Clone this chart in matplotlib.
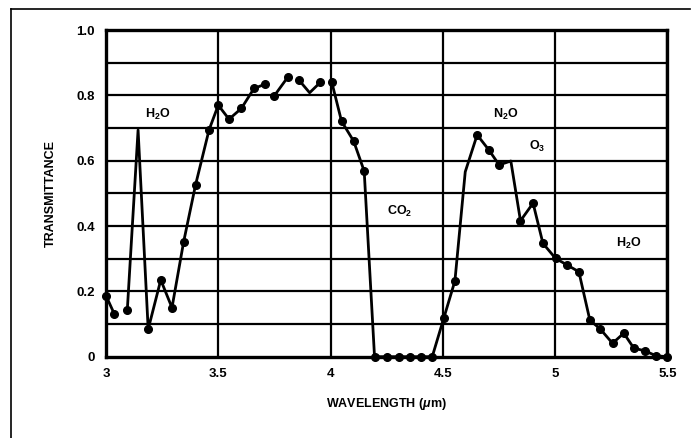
import numpy as np
import matplotlib
matplotlib.use("Agg")
import matplotlib.pyplot as plt
from matplotlib.lines import Line2D

# longitud de onda (um) y transmitancia medida
wavelength = [3.000, 3.037, 3.095, 3.143, 3.188, 3.244, 3.294, 3.346, 3.399, 3.459,
              3.500, 3.548, 3.603, 3.659, 3.708, 3.749, 3.809, 3.859, 3.907, 3.955,
              4.005, 4.049, 4.103, 4.150, 4.196, 4.250, 4.303, 4.354, 4.405, 4.453,
              4.504, 4.554, 4.600, 4.653, 4.705, 4.751, 4.803, 4.846, 4.902, 4.946,
              5.002, 5.053, 5.106, 5.155, 5.201, 5.256, 5.306, 5.351, 5.400, 5.449,
              5.500]
transmittance = [0.187, 0.131, 0.143, 0.694, 0.084, 0.235, 0.150, 0.352, 0.526, 0.694,
                 0.770, 0.727, 0.760, 0.821, 0.834, 0.798, 0.855, 0.847, 0.808, 0.840,
                 0.842, 0.721, 0.660, 0.568, 0.0, 0.0, 0.0, 0.0, 0.0, 0.0,
                 0.117, 0.232, 0.566, 0.679, 0.633, 0.587, 0.599, 0.416, 0.470, 0.347,
                 0.301, 0.281, 0.260, 0.112, 0.085, 0.041, 0.072, 0.026, 0.018, 0.003,
                 0.0]
# puntos sin marcador (vertices de la curva)
no_dot = [3, 18, 32, 36]
# la curva se interrumpe despues de estos indices
breaks = [1, 14, 16, 19]

# etiquetas de las bandas de absorcion
bands = ["H$_2$O", "CO$_2$", "N$_2$O", "O$_3$", "H$_2$O"]
band_x = [3.23, 4.31, 4.78, 4.92, 5.33]
band_y = [0.74, 0.444, 0.743, 0.643, 0.347]

xticks = [3, 3.5, 4, 4.5, 5, 5.5]
xtick_labels = ["3", "3.5", "4", "4.5", "5", "5.5"]
yticks = [0, 0.2, 0.4, 0.6, 0.8, 1.0]
ytick_labels = ["0", "0.2", "0.4", "0.6", "0.8", "1.0"]

plt.rcParams['font.family'] = ['Liberation Sans', 'DejaVu Sans']
plt.rcParams['font.weight'] = 'bold'
plt.rcParams['mathtext.fontset'] = 'custom'
plt.rcParams['mathtext.rm'] = 'Liberation Sans:bold'
plt.rcParams['mathtext.it'] = 'Liberation Sans:italic:bold'
plt.rcParams['mathtext.default'] = 'rm'

fig = plt.figure(figsize=(6.99, 4.38), dpi=100)
ax = fig.add_axes([0.1516, 0.1856, 0.9547 - 0.1516, 0.9315 - 0.1856])

# rejilla
for gx in xticks:
    ax.axvline(gx, color='black', lw=1.6, zorder=1)
for gy in np.arange(0.1, 1.0, 0.1):
    ax.axhline(gy, color='black', lw=1.6, zorder=1)

# curva por tramos
starts = [0] + [b + 1 for b in breaks]
ends = [b + 1 for b in breaks] + [len(wavelength)]
for s, e in zip(starts, ends):
    ax.plot(wavelength[s:e], transmittance[s:e], color='black', lw=2.0, zorder=3)

dx = [w for i, w in enumerate(wavelength) if i not in no_dot]
dy = [t for i, t in enumerate(transmittance) if i not in no_dot]
ax.plot(dx, dy, 'o', color='black', ms=5.5, zorder=4, clip_on=False)

for name, bx, by in zip(bands, band_x, band_y):
    ax.text(bx, by, name, ha='center', va='center', fontsize=9, fontweight='bold')

ax.set_xlim(3, 5.5)
ax.set_ylim(0, 1.0)
ax.set_xticks(xticks)
ax.set_xticklabels(xtick_labels)
ax.set_yticks(yticks)
ax.set_yticklabels(ytick_labels)
ax.tick_params(length=0, labelsize=9.5, pad=8)
for lab in ax.get_xticklabels() + ax.get_yticklabels():
    lab.set_fontweight('bold')
for sp in ax.spines.values():
    sp.set_linewidth(2.4)

ax.set_xlabel("WAVELENGTH ($\\mathit{\\mu}$m)", fontsize=9, fontweight='bold', labelpad=12)
ax.set_ylabel("TRANSMITTANCE", fontsize=9, fontweight='bold', labelpad=14)

# marco exterior
fig.add_artist(Line2D([10.7 / 699, 10.7 / 699], [0, 1 - 9 / 438], color='black', lw=1.2))
fig.add_artist(Line2D([10.7 / 699, 690 / 699], [1 - 9 / 438, 1 - 9 / 438], color='black', lw=1.2))

fig.savefig("out.png", dpi=100, facecolor='white')
